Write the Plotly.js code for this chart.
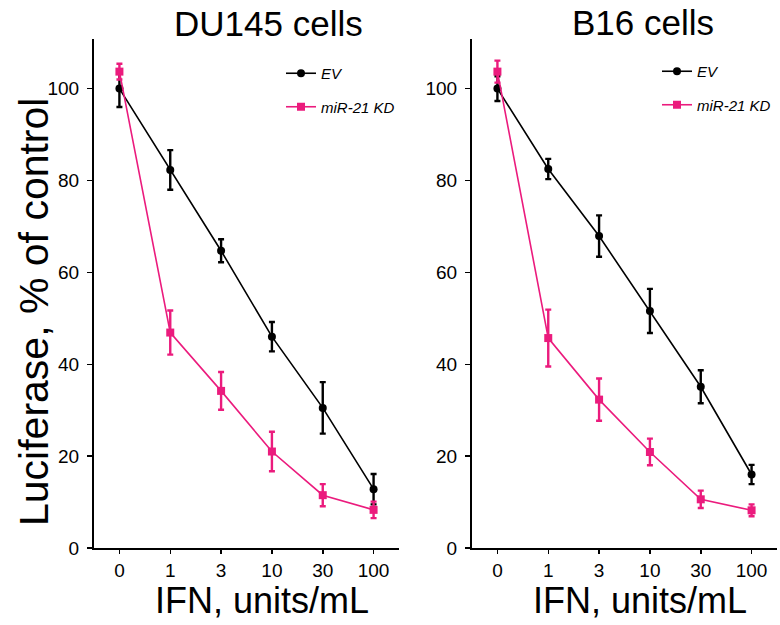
<!DOCTYPE html>
<html>
<head>
<meta charset="utf-8">
<script src="https://cdn.plot.ly/plotly-3.0.1.min.js"></script>
<style>html,body{margin:0;padding:0;background:#fff;}#chart{width:780px;height:625px;}</style>
</head>
<body>
<div id="chart"></div>
<script>
const doses = ['0', '1', '3', '10', '30', '100'];
const seriesNames = ['EV', 'miR-21 KD'];
const panelTitles = ['DU145 cells', 'B16 cells'];
const yTicks = [0, 20, 40, 60, 80, 100];

const du145EV = [100, 82.3, 64.7, 46.0, 30.5, 12.8];
const du145EVErr = [4.0, 4.3, 2.5, 3.2, 5.6, 3.3];
const du145KD = [103.7, 46.9, 34.2, 21.0, 11.5, 8.3];
const du145KDErr = [1.7, 4.8, 4.1, 4.3, 2.4, 1.8];

const b16EV = [100, 82.5, 67.9, 51.6, 35.1, 16.0];
const b16EVErr = [2.7, 2.2, 4.5, 4.8, 3.6, 2.1];
const b16KD = [103.7, 45.7, 32.3, 20.9, 10.6, 8.2];
const b16KDErr = [2.4, 6.2, 4.6, 2.9, 1.9, 1.3];

const BLACK = '#000000';
const PINK = '#EB1B7D';
const FONT = 'Liberation Sans, Arial, Helvetica, sans-serif';

function mk(y, err, name, color, symbol, xa, ya, legend, group) {
  return {
    x: doses, y: y, name: name, type: 'scatter', mode: 'lines+markers',
    xaxis: xa, yaxis: ya, legend: legend, legendgroup: group,
    line: {color: color, width: 1.6},
    marker: {color: color, symbol: symbol, size: 8},
    error_y: {type: 'data', array: err, visible: true, color: color, thickness: 2.4, width: 3},
    cliponaxis: false
  };
}

const data = [
  mk(du145EV, du145EVErr, seriesNames[0], BLACK, 'circle', 'x', 'y', 'legend', 'a1'),
  mk(du145KD, du145KDErr, seriesNames[1], PINK, 'square', 'x', 'y', 'legend', 'a2'),
  mk(b16EV, b16EVErr, seriesNames[0], BLACK, 'circle', 'x2', 'y2', 'legend2', 'b1'),
  mk(b16KD, b16KDErr, seriesNames[1], PINK, 'square', 'x2', 'y2', 'legend2', 'b2')
];

function xax(domain, anchor) {
  return {
    domain: domain, anchor: anchor, type: 'category', range: [-0.5, 5.5],
    showline: true, linecolor: BLACK, linewidth: 2, showgrid: false, zeroline: false,
    ticks: 'outside', ticklen: 4, tickwidth: 1.5, tickcolor: BLACK,
    ticklabelstandoff: 0,
    tickfont: {family: FONT, size: 19, color: BLACK}, automargin: false, fixedrange: true
  };
}
function yax(anchor) {
  return {
    domain: [0.1232, 0.9376], anchor: anchor, range: [0, 110.8],
    showline: true, linecolor: BLACK, linewidth: 2, showgrid: false, zeroline: false,
    tickvals: yTicks, ticktext: yTicks.map(String),
    ticks: 'outside', ticklen: 5, tickwidth: 1.5, tickcolor: BLACK,
    ticklabelstandoff: 4,
    tickfont: {family: FONT, size: 19, color: BLACK}, automargin: false, fixedrange: true
  };
}

function legendCfg(x, y) {
  return {
    x: x, y: y, xanchor: 'left', yanchor: 'top', xref: 'paper', yref: 'paper',
    bgcolor: 'rgba(0,0,0,0)', borderwidth: 0, tracegroupgap: 11,
    font: {family: FONT, size: 15, color: BLACK, style: 'italic'}
  };
}

const layout = {
  width: 780, height: 625,
  margin: {l: 0, r: 0, t: 0, b: 0},
  paper_bgcolor: '#ffffff', plot_bgcolor: '#ffffff',
  showlegend: true,
  font: {family: FONT, color: BLACK},
  xaxis: xax([94 / 780, 399 / 780], 'y'),
  yaxis: yax('x'),
  xaxis2: xax([472 / 780, 777 / 780], 'y2'),
  yaxis2: yax('x2'),
  legend: legendCfg(281 / 780, 1 - 57 / 625),
  legend2: legendCfg(657 / 780, 1 - 55 / 625),
  annotations: [
    {text: panelTitles[0], x: 268 / 780, y: 1 - 24 / 625, xref: 'paper', yref: 'paper', xanchor: 'center', yanchor: 'middle', showarrow: false, font: {family: FONT, size: 35, color: BLACK}},
    {text: panelTitles[1], x: 643 / 780, y: 1 - 22 / 625, xref: 'paper', yref: 'paper', xanchor: 'center', yanchor: 'middle', showarrow: false, font: {family: FONT, size: 35, color: BLACK}},
    {text: 'IFN, units/mL', x: 262 / 780, y: 1 - 600 / 625, xref: 'paper', yref: 'paper', xanchor: 'center', yanchor: 'middle', showarrow: false, font: {family: FONT, size: 36, color: BLACK}},
    {text: 'IFN, units/mL', x: 640 / 780, y: 1 - 600 / 625, xref: 'paper', yref: 'paper', xanchor: 'center', yanchor: 'middle', showarrow: false, font: {family: FONT, size: 36, color: BLACK}},
    {text: 'Luciferase, % of control', x: 34 / 780, y: 1 - 312 / 625, xref: 'paper', yref: 'paper', xanchor: 'center', yanchor: 'middle', textangle: -90, showarrow: false, font: {family: FONT, size: 41, color: BLACK}}
  ]
};

Plotly.newPlot('chart', data, layout, {staticPlot: true, displayModeBar: false});
</script>
</body>
</html>
